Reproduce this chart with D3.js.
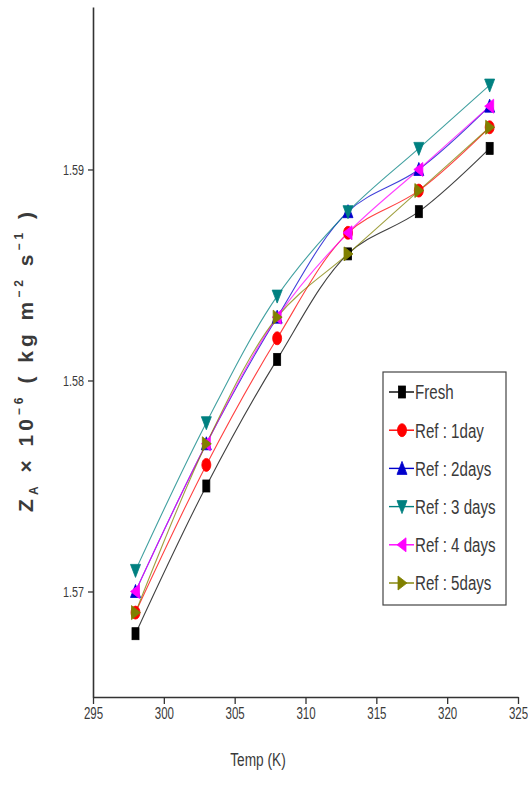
<!DOCTYPE html>
<html>
<head>
<meta charset="utf-8">
<script src="https://cdn.jsdelivr.net/npm/d3@7"></script>
<style>
  body { margin: 0; background: #fff; }
  text { font-family: "Liberation Sans", Arial, sans-serif; fill: #3a3a3a; }
</style>
</head>
<body>
<div id="chart"></div>
<script>
// temperatures (K)
var temps = [298, 303, 308, 313, 318, 323];

// acoustic impedance values, Z x 10^-6
var fresh   = [1.568, 1.575, 1.581, 1.586, 1.588, 1.591];
var ref1day = [1.569, 1.576, 1.582, 1.587, 1.589, 1.592];
var ref2day = [1.570, 1.577, 1.583, 1.588, 1.590, 1.593];
var ref3day = [1.571, 1.578, 1.584, 1.588, 1.591, 1.594];
var ref4day = [1.570, 1.577, 1.583, 1.587, 1.590, 1.593];
var ref5day = [1.569, 1.577, 1.583, 1.586, 1.589, 1.592];

var seriesNames = ["Fresh", "Ref : 1day", "Ref : 2days", "Ref : 3 days", "Ref : 4 days", "Ref : 5days"];
var xTicks = [295, 300, 305, 310, 315, 320, 325];
var yTicks = [1.57, 1.58, 1.59];

var colors = ["#000000", "#ff0000", "#0000cc", "#008080", "#ff00ff", "#808000"];
var symbols = ["square", "circle", "up", "down", "left", "right"];

var series = [fresh, ref1day, ref2day, ref3day, ref4day, ref5day].map(function(vals, i) {
  return { name: seriesNames[i], color: colors[i], sym: symbols[i],
           points: vals.map(function(v, j) { return { t: temps[j], z: v }; }) };
});

var width = 528, height = 797;
var narrow = 0.72; // squeeze text horizontally, the source uses a condensed face

var svg = d3.select("#chart").append("svg")
    .attr("width", width)
    .attr("height", height);

var x = d3.scaleLinear().domain([295, 325]).range([93, 518]);
var y = d3.scaleLinear().domain([1.565, 1.5977]).range([697, 7]);

// x axis
var gx = svg.append("g")
    .attr("transform", "translate(0,697)")
    .call(d3.axisBottom(x).tickValues(xTicks).tickSize(7).tickSizeOuter(0));
gx.select(".domain").attr("stroke", "#333").attr("stroke-width", 1.6);
gx.selectAll(".tick line").attr("stroke", "#333").attr("stroke-width", 1.3);
gx.selectAll(".tick text")
  .attr("font-size", 16).attr("y", 11).attr("dy", "0.71em")
  .attr("transform", "scale(" + narrow + ",1)");

// y axis
var gy = svg.append("g")
    .attr("transform", "translate(93,0)")
    .call(d3.axisLeft(y).tickValues(yTicks).tickFormat(d3.format(".2f")).tickSize(5).tickSizeOuter(0));
gy.select(".domain").attr("stroke", "#333").attr("stroke-width", 1.6);
gy.selectAll(".tick line").attr("stroke", "#333").attr("stroke-width", 1.3);
gy.selectAll(".tick text")
  .attr("font-size", 15).attr("x", -9 / narrow)
  .attr("transform", "scale(" + narrow + ",1)");

// axis titles
svg.append("text")
    .attr("transform", "translate(258,766) scale(" + narrow + ",1)")
    .attr("text-anchor", "middle")
    .attr("font-size", 19)
    .text("Temp (K)");

var ylab = svg.append("text")
    .attr("transform", "translate(33,360) rotate(-90)")
    .attr("text-anchor", "middle")
    .attr("font-size", 21)
    .attr("font-weight", "bold")
    .attr("fill", "#666")
    .attr("letter-spacing", 4);
ylab.append("tspan").text("Z");
ylab.append("tspan").attr("font-size", 12).attr("dy", 5).text("A");
ylab.append("tspan").attr("dy", -5).text(" \u00d7 10");
ylab.append("tspan").attr("font-size", 12).attr("dy", -10).text("\u22126");
ylab.append("tspan").attr("dy", 10).text(" ( kg m");
ylab.append("tspan").attr("font-size", 12).attr("dy", -10).text("\u22122");
ylab.append("tspan").attr("dy", 10).text(" s");
ylab.append("tspan").attr("font-size", 12).attr("dy", -10).text("\u22121");
ylab.append("tspan").attr("dy", 10).text(" )");

// markers
function marker(sel, sym, color) {
  var p;
  if (sym === "square") {
    p = sel.append("rect").attr("x", -3.5).attr("y", -6).attr("width", 7).attr("height", 12);
  } else if (sym === "circle") {
    p = sel.append("ellipse").attr("rx", 4.5).attr("ry", 6.5);
  } else {
    var pts = {
      up:    "0,-7 5,6 -5,6",
      down:  "0,7 5,-6 -5,-6",
      left:  "-5,0 4,-7 4,7",
      right: "5,0 -4,-7 -4,7"
    }[sym];
    p = sel.append("polygon").attr("points", pts);
  }
  p.attr("fill", color).attr("stroke", color).attr("stroke-width", 0.8);
}

var line = d3.line()
    .x(function(d) { return x(d.t); })
    .y(function(d) { return y(d.z); })
    .curve(d3.curveCatmullRom.alpha(0.5));

var lines = svg.append("g");
series.forEach(function(s) {
  lines.append("path")
      .datum(s.points)
      .attr("fill", "none")
      .attr("stroke", s.color)
      .attr("stroke-width", 1.1)
      .attr("stroke-opacity", 0.75)
      .attr("d", line);
});

var marks = svg.append("g");
series.forEach(function(s) {
  marks.selectAll(null)
    .data(s.points)
    .enter().append("g")
      .attr("transform", function(d) { return "translate(" + x(d.t) + "," + y(d.z) + ")"; })
      .each(function() { marker(d3.select(this), s.sym, s.color); });
});

// legend
var lg = svg.append("g").attr("transform", "translate(383,372)");
lg.append("rect")
    .attr("width", 123).attr("height", 233)
    .attr("fill", "#fff")
    .attr("stroke", "#444").attr("stroke-width", 1.2);

var items = lg.selectAll(".item")
    .data(series)
    .enter().append("g")
      .attr("class", "item")
      .attr("transform", function(d, i) { return "translate(0," + (20 + i * 38.2) + ")"; });

items.append("line")
    .attr("x1", 6).attr("x2", 31)
    .attr("stroke", function(d) { return d.color; })
    .attr("stroke-width", 1.4);
items.append("g")
    .attr("transform", "translate(19,0)")
    .each(function(d) { marker(d3.select(this), d.sym, d.color); });
items.append("text")
    .attr("transform", "translate(32,0) scale(" + narrow + ",1)")
    .attr("dy", "0.35em")
    .attr("font-size", 21)
    .text(function(d) { return d.name; });
</script>
</body>
</html>
